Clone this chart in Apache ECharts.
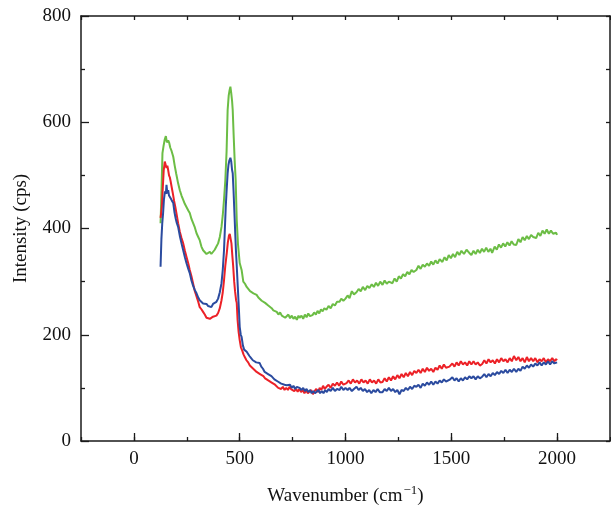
<!DOCTYPE html>
<html><head><meta charset="utf-8">
<script src="https://cdn.jsdelivr.net/npm/echarts@6/dist/echarts.min.js"></script>
<style>html,body{margin:0;padding:0;background:#fff}#c{width:611px;height:507px}</style>
</head><body><div id="c"></div>
<script>
var xTickLabels=[0,500,1000,1500,2000];
var yTickLabels=[0,200,400,600,800];
var seriesNames=['Green','Red','Blue'];
var greenData=[[126,410],[131,480],[135,542],[140,555],[146,568],[151,574],[156,562],[162,566],[167,561],[172,552],[178,546],[186,535],[193,518],[200,503],[209,485],[217,472],[225,462],[233,454],[241,446],[249,440],[257,434],[264,429],[272,418],[280,410],[288,402],[296,391],[304,384],[311,378],[319,366],[327,359],[335,362],[343,352],[351,350],[359,356],[366,352],[374,352],[382,360],[390,366],[398,372],[406,384],[414,403],[420,425],[426,455],[432,490],[438,545],[443,623],[448,650],[452,660],[456,667],[460,655],[464,640],[467,623],[472,570],[476,530],[481,491],[486,416],[492,370],[500,335],[509,322],[517,300],[525,296],[533,290],[541,288],[549,282],[557,284],[565,278],[573,276],[580,275],[588,270],[596,272],[604,264],[612,266],[620,260],[627,262],[635,255],[643,252],[651,250],[659,246],[667,248],[675,243],[683,238],[691,242],[699,236],[707,238],[715,232],[722,234],[730,238],[738,231],[746,236],[754,230],[762,234],[770,228],[778,236],[783,232],[792,236],[800,230],[808,238],[816,233],[824,240],[832,235],[844,237],[852,242],[860,238],[868,245],[876,240],[884,248],[892,244],[900,250],[910,247],[920,254],[930,250],[940,258],[950,255],[960,262],[972,262],[980,268],[990,264],[1000,268],[1010,274],[1019,269],[1030,282],[1040,276],[1052,280],[1062,286],[1072,282],[1082,290],[1093,284],[1103,292],[1113,288],[1124,295],[1134,290],[1144,298],[1154,292],[1164,300],[1175,294],[1185,302],[1195,296],[1205,300],[1222,297],[1232,306],[1242,300],[1252,310],[1262,306],[1272,314],[1282,310],[1292,318],[1302,314],[1312,322],[1322,318],[1335,322],[1345,330],[1355,324],[1365,332],[1375,328],[1385,334],[1395,330],[1405,338],[1415,332],[1425,340],[1435,334],[1445,342],[1458,337],[1468,346],[1478,340],[1488,350],[1498,344],[1508,352],[1518,346],[1528,356],[1538,350],[1548,358],[1560,352],[1572,360],[1585,354],[1595,350],[1605,358],[1615,352],[1625,360],[1635,354],[1645,362],[1655,356],[1665,364],[1675,356],[1685,362],[1693,354],[1705,366],[1715,360],[1725,370],[1735,364],[1745,372],[1755,366],[1765,374],[1775,368],[1785,376],[1795,370],[1807,369],[1817,380],[1827,374],[1837,384],[1847,378],[1857,386],[1867,380],[1877,388],[1887,384],[1901,382],[1911,392],[1921,386],[1931,396],[1941,390],[1951,398],[1961,390],[1971,396],[1981,390],[1995,392],[2000,388]];
var redData=[[126,420],[132,440],[137,480],[141,510],[146,526],[150,520],[154,514],[158,518],[162,510],[166,500],[170,496],[174,488],[178,479],[184,466],[190,452],[196,440],[201,429],[209,410],[217,394],[225,382],[233,372],[241,358],[249,346],[257,334],[264,322],[272,310],[280,296],[288,282],[296,272],[304,262],[311,252],[319,248],[327,243],[335,238],[343,232],[351,234],[359,230],[366,228],[374,234],[382,232],[390,236],[398,241],[406,250],[414,265],[420,280],[426,303],[432,330],[439,354],[444,374],[449,386],[453,390],[457,388],[461,372],[465,350],[469,330],[474,300],[478,282],[483,265],[486,260],[490,228],[495,205],[500,190],[506,176],[512,170],[518,163],[524,158],[532,152],[540,148],[548,142],[556,140],[564,136],[572,134],[580,130],[588,128],[596,126],[604,124],[612,122],[620,118],[627,120],[635,114],[643,112],[651,110],[659,108],[667,106],[675,104],[682,100],[689,102],[696,98],[704,102],[712,96],[720,100],[728,96],[736,102],[744,97],[750,100],[758,94],[766,98],[774,93],[782,98],[790,92],[798,96],[806,90],[814,95],[822,90],[830,92],[838,96],[846,88],[854,94],[862,98],[870,92],[878,100],[886,96],[894,104],[902,98],[910,102],[920,106],[930,100],[940,108],[950,104],[960,110],[970,104],[980,112],[990,106],[1005,109],[1015,114],[1025,108],[1035,116],[1045,110],[1055,114],[1065,108],[1075,116],[1085,110],[1095,114],[1105,108],[1115,116],[1125,110],[1135,114],[1145,108],[1155,116],[1165,110],[1175,111],[1185,118],[1195,112],[1205,120],[1215,114],[1225,122],[1235,116],[1245,124],[1255,118],[1265,126],[1275,120],[1285,128],[1295,122],[1305,130],[1315,124],[1325,132],[1335,128],[1345,134],[1355,128],[1365,136],[1375,130],[1385,138],[1395,132],[1405,136],[1415,130],[1425,138],[1435,134],[1445,142],[1455,136],[1465,144],[1475,138],[1491,140],[1505,146],[1515,140],[1525,148],[1535,142],[1545,150],[1555,144],[1565,148],[1575,142],[1585,150],[1595,144],[1605,150],[1615,144],[1625,148],[1635,142],[1646,145],[1656,152],[1666,146],[1676,154],[1686,148],[1696,152],[1706,146],[1716,154],[1726,148],[1736,156],[1746,150],[1756,154],[1766,148],[1776,156],[1786,150],[1796,160],[1807,152],[1817,158],[1827,150],[1837,156],[1847,148],[1857,158],[1867,150],[1877,156],[1887,150],[1897,156],[1907,148],[1917,154],[1927,150],[1937,156],[1947,148],[1957,154],[1967,150],[1977,156],[1987,150],[1995,154],[2000,152]];
var blueData=[[126,328],[130,380],[134,410],[138,429],[142,455],[147,470],[151,465],[154,482],[158,466],[162,472],[166,462],[170,460],[175,456],[180,452],[186,448],[192,430],[198,418],[203,410],[209,403],[217,386],[225,372],[233,359],[241,346],[249,334],[257,324],[264,316],[272,302],[280,292],[288,284],[296,278],[304,270],[311,265],[319,262],[327,259],[335,256],[343,258],[351,254],[358,256],[366,252],[374,258],[382,256],[390,262],[398,268],[406,280],[414,297],[420,322],[426,360],[430,400],[434,440],[438,470],[443,504],[447,520],[451,528],[456,533],[460,526],[464,510],[467,504],[471,470],[474,440],[478,400],[482,360],[486,330],[491,290],[496,250],[500,215],[505,200],[509,196],[515,180],[521,172],[527,170],[533,168],[538,166],[546,160],[554,156],[562,152],[570,150],[578,148],[586,148],[594,147],[602,140],[610,136],[618,130],[626,128],[634,126],[642,124],[650,122],[656,120],[664,116],[672,114],[680,112],[688,110],[696,108],[704,110],[712,106],[722,105],[730,102],[738,106],[746,100],[754,104],[762,98],[770,102],[783,100],[792,96],[800,100],[808,94],[816,98],[824,92],[832,96],[840,90],[848,94],[856,90],[863,92],[872,96],[880,90],[888,94],[896,90],[904,96],[912,92],[920,98],[930,94],[940,100],[950,94],[960,98],[972,96],[980,102],[990,96],[1000,100],[1010,96],[1019,100],[1030,94],[1040,98],[1052,102],[1062,96],[1072,100],[1082,94],[1092,98],[1102,92],[1112,96],[1122,90],[1132,96],[1142,92],[1152,98],[1162,92],[1175,92],[1185,98],[1195,94],[1205,100],[1215,94],[1225,98],[1235,92],[1245,96],[1255,88],[1265,96],[1275,94],[1285,100],[1295,96],[1305,102],[1315,98],[1325,104],[1335,102],[1345,106],[1355,100],[1365,108],[1375,104],[1385,110],[1395,106],[1405,112],[1415,106],[1425,112],[1435,108],[1445,114],[1455,110],[1465,116],[1475,112],[1491,115],[1505,120],[1515,114],[1525,118],[1535,112],[1545,118],[1555,114],[1565,120],[1575,116],[1585,122],[1595,118],[1605,122],[1615,116],[1625,122],[1635,118],[1646,121],[1656,126],[1666,120],[1676,126],[1686,122],[1696,128],[1706,124],[1716,130],[1726,126],[1736,132],[1746,128],[1756,134],[1766,128],[1776,134],[1786,130],[1796,136],[1807,130],[1817,136],[1827,132],[1837,140],[1847,136],[1857,142],[1867,138],[1877,144],[1887,140],[1897,146],[1907,142],[1917,148],[1927,142],[1937,148],[1947,144],[1957,150],[1967,144],[1977,150],[1987,146],[1995,146],[2000,148]];

var FONT='Liberation Serif';
var AX='#1a1a1a';
var chart=echarts.init(document.getElementById('c'),null,{renderer:'canvas'});
var lineAx={show:true,onZero:false,lineStyle:{color:AX,width:1.5}};
chart.setOption({
  animation:false,
  backgroundColor:'#fff',
  grid:{left:81,right:1,top:16,bottom:66,containLabel:false,outerBoundsMode:'none'},
  xAxis:[
    {type:'value',position:'bottom',min:-250,max:2250,interval:250,
     axisLine:lineAx,splitLine:{show:false},
     axisTick:{show:true,inside:true,length:4,lineStyle:{color:AX,width:1.3}},
     axisLabel:{show:true,margin:9,color:'#111',fontFamily:FONT,fontSize:19,
       formatter:function(v){return xTickLabels.indexOf(v)>=0?String(v):'';}},
     name:'{a|Wavenumber (cm}{s|\u22121}{a|)}',nameLocation:'middle',nameGap:43,
     nameTextStyle:{rich:{a:{fontFamily:FONT,fontSize:19,color:'#111',verticalAlign:'bottom'},s:{fontFamily:FONT,fontSize:13,color:'#111',verticalAlign:'top',padding:[0,0,9,1]}}}},
    {type:'value',position:'bottom',min:-250,max:2250,
     axisLine:{show:false,onZero:false},splitLine:{show:false},
     axisTick:{show:true,inside:true,length:8,customValues:xTickLabels,lineStyle:{color:AX,width:1.3}},
     axisLabel:{show:false}},
    {type:'value',position:'top',min:-250,max:2250,interval:250,
     axisLine:lineAx,splitLine:{show:false},
     axisTick:{show:true,inside:true,length:4,lineStyle:{color:AX,width:1.3}},
     axisLabel:{show:false}}
  ],
  yAxis:[
    {type:'value',position:'left',min:0,max:800,interval:200,
     axisLine:lineAx,splitLine:{show:false},
     axisTick:{show:true,inside:true,length:8,lineStyle:{color:AX,width:1.3}},
     minorTick:{show:true,splitNumber:2,length:4,lineStyle:{color:AX,width:1.3}},
     axisLabel:{show:true,margin:10,color:'#111',fontFamily:FONT,fontSize:19,
       formatter:function(v){return yTickLabels.indexOf(v)>=0?String(v):'';}},
     name:'Intensity (cps)',nameLocation:'middle',nameGap:50,nameRotate:90,
     nameTextStyle:{fontFamily:FONT,fontSize:19,color:'#111'}},
    {type:'value',position:'right',min:0,max:800,interval:100,
     axisLine:lineAx,splitLine:{show:false},
     axisTick:{show:true,inside:true,length:4,lineStyle:{color:AX,width:1.3}},
     axisLabel:{show:false}}
  ],
  series:[
    {name:seriesNames[0],type:'line',data:greenData,showSymbol:false,symbol:'none',lineStyle:{color:'#6cbd45',width:2},z:2},
    {name:seriesNames[1],type:'line',data:redData,showSymbol:false,symbol:'none',lineStyle:{color:'#ec2127',width:2},z:3},
    {name:seriesNames[2],type:'line',data:blueData,showSymbol:false,symbol:'none',lineStyle:{color:'#2b4b9f',width:2},z:4}
  ]
});
</script></body></html>
